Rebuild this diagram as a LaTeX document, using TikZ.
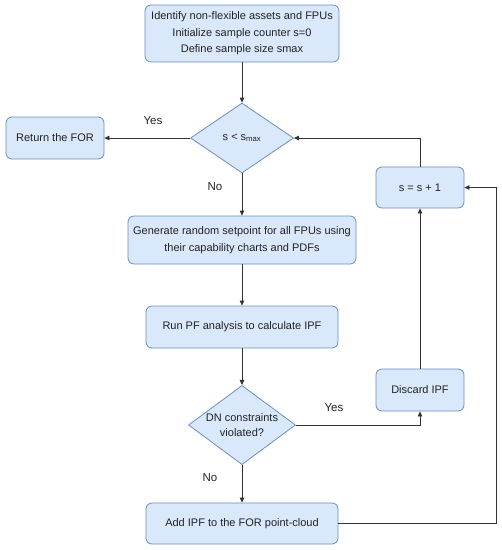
\documentclass[tikz,border=0pt]{standalone}
\usepackage{fontspec}
\setmainfont{Liberation Sans}
\usetikzlibrary{shapes.geometric,arrows.meta}
\definecolor{boxfill}{HTML}{DAE8FC}
\definecolor{boxdraw}{HTML}{6C8EBF}
\definecolor{linec}{HTML}{333333}
\definecolor{txt}{HTML}{222222}
\tikzset{
  procbox/.style={draw=boxdraw, fill=boxfill, rounded corners=6pt, line width=0.8pt,
    align=center, inner sep=2pt, font=\fontsize{11}{16.5}\selectfont, text=txt},
  decbox/.style={draw=boxdraw, fill=boxfill, shape=diamond, line width=0.8pt,
    inner sep=-4pt, align=center, font=\fontsize{11}{15}\selectfont, text=txt},
  conn/.style={draw=linec, line width=0.8pt, -{Triangle[length=5pt,width=4.5pt]}},
  plain/.style={draw=linec, line width=0.8pt},
  lbl/.style={font=\fontsize{11.5}{14}\selectfont, text=txt, inner sep=0pt}
}
\begin{document}
\begin{tikzpicture}[x=1pt,y=-1pt]
\useasboundingbox (0,0) rectangle (502,550);
\node[procbox, minimum width=194pt, minimum height=57pt] (init) at (242,33.5)
  {Identify non-flexible assets and FPUs\\Initialize sample counter s=0\\Define sample size smax};
\node[decbox, minimum width=103pt, minimum height=70pt] (d1) at (242,138) {s < s\textsubscript{max}};
\node[procbox, minimum width=98pt, minimum height=42pt] (ret) at (55,138) {Return the FOR};
\node[procbox, minimum width=228pt, minimum height=48pt] (gen) at (242,240)
  {Generate random setpoint for all FPUs using\\their capability charts and PDFs};
\node[procbox, minimum width=192pt, minimum height=42pt] (run) at (242,327) {Run PF analysis to calculate IPF};
\node[decbox, minimum width=107pt, minimum height=68pt] (d2) at (242,425) {DN constraints\\violated?};
\node[procbox, minimum width=88pt, minimum height=42pt] (disc) at (420,390) {Discard IPF};
\node[procbox, minimum width=88pt, minimum height=41pt] (inc) at (420,187.5) {s = s + 1};
\node[procbox, minimum width=192pt, minimum height=41pt] (add) at (242,523.5) {Add IPF to the FOR point-cloud};
\coordinate (c1) at (420,138);
\coordinate (c2) at (420,425);
\coordinate (c3) at (496,523.5);
\coordinate (c4) at (496,187.5);
\path[conn] (init) -- (d1);
\path[conn] (d1) -- (ret);
\path[conn] (d1) -- (gen);
\path[conn] (gen) -- (run);
\path[conn] (run) -- (d2);
\path[conn] (d2) -- (add);
\path[conn] (d2.east) -- (c2) -- (disc);
\path[conn] (disc) -- (inc);
\path[conn] (inc) -- (c1) -- (d1.east);
\path[conn] (add.east) -- (c3) -- (c4) -- (inc.east);
\node[lbl] (yes1) at (153,121) {Yes};
\node[lbl] (no1) at (215,187) {No};
\node[lbl] (yes2) at (334,408) {Yes};
\node[lbl] (no2) at (210,478) {No};
\end{tikzpicture}
\end{document}
